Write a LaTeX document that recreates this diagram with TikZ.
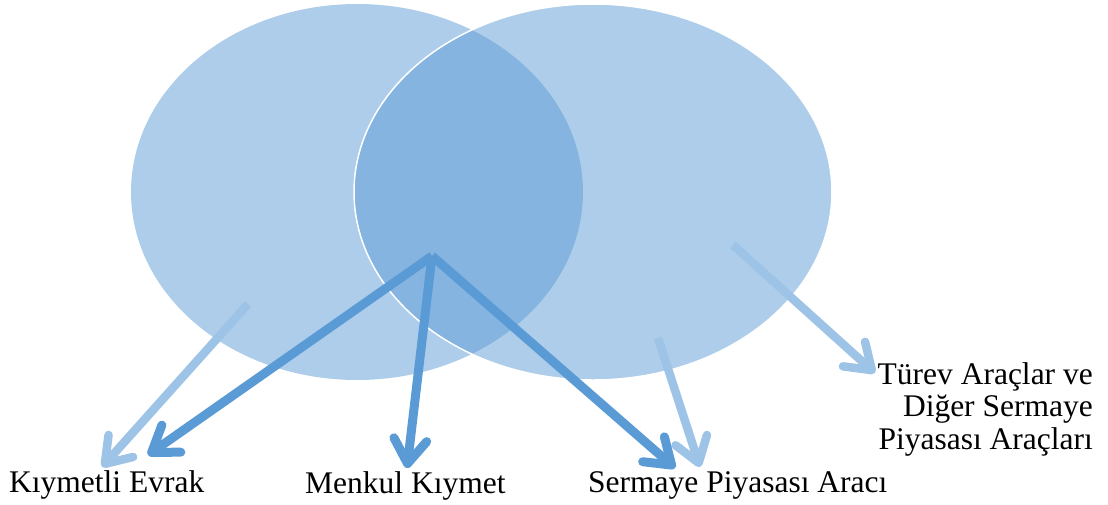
\documentclass[tikz,border=0pt]{standalone}
\usepackage{fontspec}
\setmainfont{Liberation Serif}
\usetikzlibrary{shapes.geometric,arrows.meta}
\definecolor{vennfill}{HTML}{5B9BD5}
\definecolor{darkarrow}{HTML}{5B9BD5}
\definecolor{lightarrow}{HTML}{9DC3E6}
\begin{document}
\begin{tikzpicture}[x=1pt,y=-1pt,
  setshape/.style={ellipse, inner sep=0pt, fill=vennfill, fill opacity=0.5},
  lbl/.style={font=\fontsize{31.5}{32.5}\selectfont, inner sep=0pt, text=black},
  tipstyle/.style={-{Straight Barb[length=24pt,width=33pt,round]}},
  darrow/.style={draw=darkarrow, line width=9pt, tipstyle},
  larrow/.style={draw=lightarrow, line width=8.5pt, tipstyle}]
\useasboundingbox (0,0) rectangle (1108,504);

% the two overlapping sets
\node[setshape, minimum width=452pt, minimum height=376pt] (setA) at (357,192) {};
\node[setshape, minimum width=478pt, minimum height=376pt, draw=white, line width=1.5pt] (setB) at (593,192) {};

% labels
\node[lbl, anchor=base west] (evrak) at (9,492) {Kıymetli Evrak};
\node[lbl, anchor=base west] (menkul) at (305,493) {Menkul Kıymet};
\node[lbl, anchor=base west] (spa) at (588,492) {Sermaye Piyasası Aracı};
\node[lbl, anchor=north east, align=right] (turev) at (1093,362)
  {Türev Araçlar ve\\Diğer Sermaye\\Piyasası Araçları};

% arrow end points
\coordinate (hub) at (432,256);
\coordinate (aStart) at (248,304);
\coordinate (bStart) at (658,338);
\coordinate (cStart) at (733,245);
\coordinate (evrakTipL) at (102,467);
\coordinate (evrakTipD) at (148,455);
\coordinate (menkulTip) at (407,468);
\coordinate (spaTipD) at (675,468);
\coordinate (spaTipL) at (700,467);
\coordinate (turevTip) at (875,373);

% arrows from the single sets
\draw[larrow] (aStart) -- (evrakTipL);
\draw[larrow] (bStart) -- (spaTipL);
\draw[larrow] (cStart) -- (turevTip);

% arrows from the intersection
\draw[darrow] (hub) -- (evrakTipD);
\draw[darrow] (hub) -- (menkulTip);
\draw[darrow] (hub) -- (spaTipD);
\end{tikzpicture}
\end{document}
